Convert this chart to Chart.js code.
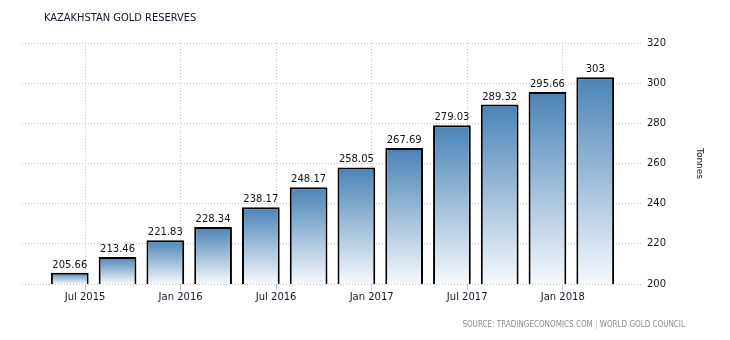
<!DOCTYPE html>
<html>
<head>
<meta charset="utf-8">
<script src="https://cdn.jsdelivr.net/npm/chart.js@4/dist/chart.umd.min.js"></script>
<style>
  body { margin: 0; background: #fff; }
  #wrap { position: relative; width: 730px; height: 340px; }
  #title { position: absolute; left: 44px; top: 11px; font: 11px "DejaVu Sans Condensed", "DejaVu Sans", sans-serif; font-stretch: condensed; color: #141428; }
  #source { position: absolute; right: 45px; top: 320px; font: 8px "DejaVu Sans Condensed", "DejaVu Sans", sans-serif; font-stretch: condensed; color: #8c8c8c; }
  #source span { color: #9ec3e6; }
</style>
</head>
<body>
<div id="wrap">
  <canvas id="barChart" width="730" height="340"></canvas>
  <div id="title">KAZAKHSTAN GOLD RESERVES</div>
  <div id="source">SOURCE: TRADINGECONOMICS.COM <span>|</span> WORLD GOLD COUNCIL</div>
</div>
<script>
// quarterly readings, Jul 2015 .. Apr 2018
const quarters = ['Jul 2015', 'Oct 2015', 'Jan 2016', 'Apr 2016', 'Jul 2016', 'Oct 2016',
                  'Jan 2017', 'Apr 2017', 'Jul 2017', 'Oct 2017', 'Jan 2018', 'Apr 2018'];
const reserves = [205.66, 213.46, 221.83, 228.34, 238.17, 248.17,
                  258.05, 267.69, 279.03, 289.32, 295.66, 303];
const tickLabels = ['Jul 2015', 'Jan 2016', 'Jul 2016', 'Jan 2017', 'Jul 2017', 'Jan 2018'];
const yTicks = [200, 220, 240, 260, 280, 300, 320];

const points = reserves.map((v, i) => ({ x: i, y: v }));

function barGradient(c) {
  const chart = c.chart;
  if (!chart.chartArea || !c.parsed) return '#7ba3cb';
  const y = chart.scales.y;
  const top = y.getPixelForValue(c.parsed.y);
  const bottom = y.getPixelForValue(yTicks[0]);
  if (!isFinite(top) || !isFinite(bottom) || top === bottom) return '#7ba3cb';
  const g = chart.ctx.createLinearGradient(0, top, 0, bottom);
  g.addColorStop(0, '#4a83b7');
  g.addColorStop(1, '#f6f9fd');
  return g;
}

const valueLabels = {
  id: 'valueLabels',
  afterDatasetsDraw(chart) {
    const ctx = chart.ctx;
    const meta = chart.getDatasetMeta(0);
    ctx.save();
    ctx.font = '10px "DejaVu Sans", sans-serif';
    ctx.fillStyle = '#111';
    ctx.textAlign = 'center';
    ctx.textBaseline = 'alphabetic';
    meta.data.forEach((bar, i) => {
      ctx.fillText(String(reserves[i]), bar.x, bar.y - 5);
    });
    ctx.restore();
  }
};

new Chart(document.getElementById('barChart').getContext('2d'), {
  type: 'bar',
  data: {
    datasets: [{
      label: 'Gold Reserves',
      data: points,
      backgroundColor: barGradient,
      borderColor: '#000',
      borderWidth: 2,
      borderSkipped: false,
      categoryPercentage: 1,
      barPercentage: 0.79
    }]
  },
  options: {
    responsive: false,
    animation: false,
    layout: { padding: { left: 22, top: 43, right: 0, bottom: 0 } },
    plugins: { legend: { display: false }, tooltip: { enabled: false } },
    scales: {
      x: {
        type: 'linear',
        min: -1,
        max: 12,
        offset: false,
        afterBuildTicks: (s) => { s.ticks = [0, 2, 4, 6, 8, 10].map(i => ({ value: i + 0.32 })); },
        afterFit: (s) => { s.height = 56; },
        grid: {
          offset: false,
          color: '#c4c4c4',
          tickLength: 6,
          tickColor: '#c4c4c4',
          tickBorderDash: []
        },
        border: { display: false, dash: [1, 2] },
        ticks: {
          autoSkip: false,
          maxRotation: 0,
          padding: 1,
          color: '#141428',
          font: { family: 'DejaVu Sans', size: 10 },
          callback: (v, i) => tickLabels[i]
        }
      },
      y: {
        position: 'right',
        min: 200,
        max: 320,
        afterBuildTicks: (s) => { s.ticks = yTicks.map(v => ({ value: v })); },
        afterFit: (s) => { s.width = 87; },
        grid: { color: '#c4c4c4', drawTicks: false },
        border: { display: false, dash: [1, 2] },
        ticks: {
          padding: 4,
          color: '#141428',
          font: { family: 'DejaVu Sans', size: 10 }
        },
        title: {
          display: true,
          text: 'Tonnes',
          color: '#141428',
          font: { family: 'DejaVu Sans', size: 9 },
          padding: { top: 25, bottom: 0 }
        }
      }
    }
  },
  plugins: [valueLabels]
});
</script>
</body>
</html>
